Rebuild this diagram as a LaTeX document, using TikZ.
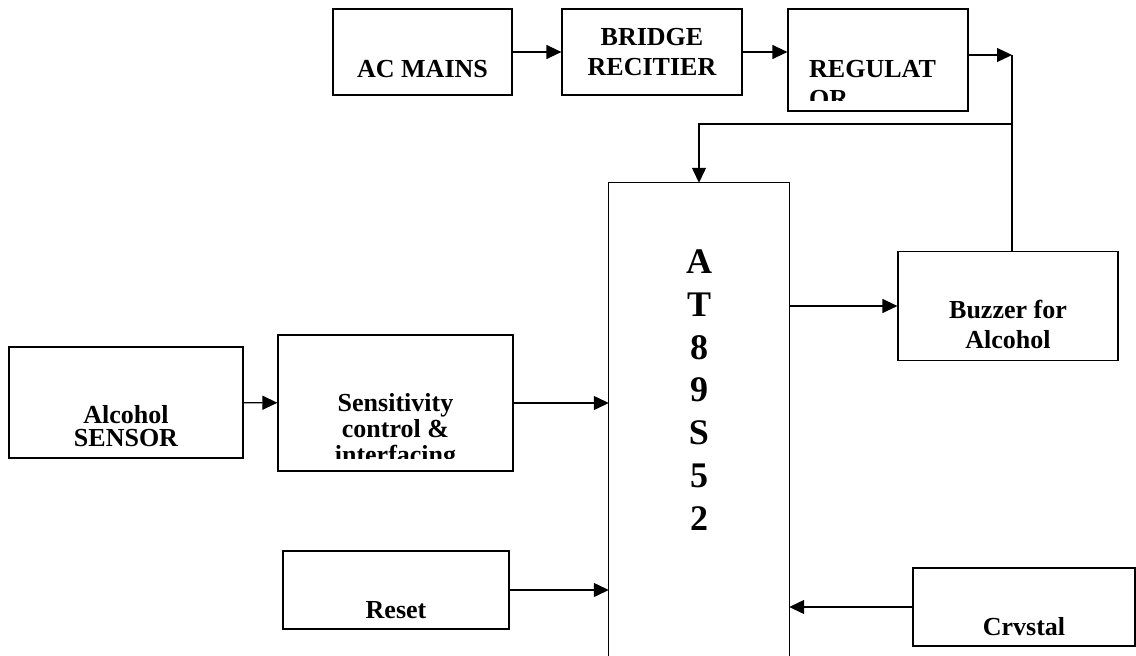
\documentclass[tikz,border=0pt]{standalone}
\usepackage{fontspec}
\setmainfont{Liberation Serif}
\usetikzlibrary{arrows.meta,positioning}

\begin{document}
\begin{tikzpicture}[x=1pt,y=-1pt,>={Triangle[length=15pt,width=14pt]},
  blk/.style={draw,line width=1.2pt,inner sep=0pt},
  ln/.style={line width=1.2pt},
  lbl/.style={font=\bfseries\fontsize{26}{30}\selectfont,align=center,anchor=base,inner sep=0pt}]
  \useasboundingbox (0,0) rectangle (1136,656);
  \node[blk,minimum width=179pt,minimum height=86pt] (acm) at (422.5,52) {};
  \node[blk,minimum width=180pt,minimum height=86pt] (bridge) at (652,52) {};
  \node[blk,minimum width=180pt,minimum height=102pt] (reg) at (878,60) {};
  \node[minimum width=180pt,minimum height=473pt] (mcu) at (699,419.5) {};
  \draw[line width=1pt] (mcu.south west) -- (mcu.north west) -- (mcu.north east) -- (mcu.south east);
  \node[blk,minimum width=220pt,minimum height=109pt] (buzzer) at (1008,306) {};
  \node[blk,minimum width=234pt,minimum height=111pt] (sensor) at (126,402.5) {};
  \node[blk,minimum width=235pt,minimum height=136pt] (sens) at (395.5,403) {};
  \node[blk,minimum width=226pt,minimum height=78pt] (reset) at (396,590) {};
  \node[blk,minimum width=222pt,minimum height=78pt] (crystal) at (1024,607) {};

  \node[lbl] (tacm) at (422.5,77) {AC MAINS};
  \node[lbl] (tbridge) at (652,75) {BRIDGE\\RECITIER};
  \begin{scope}
    \clip ([yshift=11pt]reg.south west) rectangle (reg.north east);
    \node[lbl,align=left,anchor=base west] (treg) at (809,107) {REGULAT\\OR};
  \end{scope}
  \node[lbl,font=\bfseries\fontsize{36}{42.7}\selectfont] (tmcu) at (699,530) {A\\T\\8\\9\\S\\5\\2};
  \node[lbl] (tbuzzer) at (1008,348) {Buzzer for\\Alcohol};
  \node[lbl,font=\bfseries\fontsize{26}{23}\selectfont] (tsensor) at (126,446) {Alcohol\\SENSOR};
  \begin{scope}
    \clip ([yshift=13pt]sens.south west) rectangle (sens.north east);
    \node[lbl,font=\bfseries\fontsize{26}{26}\selectfont] (tsens) at (395.5,463) {Sensitivity\\control \&\\interfacing};
  \end{scope}
  \node[lbl] (treset) at (396,618) {Reset};
  \node[lbl] (tcrystal) at (1024,635) {Crvstal};

  \coordinate (jn) at (1012,55);
  \coordinate (jtop) at (1012,124);
  \draw[ln,->] (acm) -- (bridge);
  \draw[ln,->] (bridge.east) -- (bridge.east -| reg.west);
  \draw[ln,->] (reg.east |- jn) -- (jn);
  \draw[ln] (jn) -- (jn |- buzzer.north);
  \draw[ln,->] (jtop) -- (jtop -| mcu.north) -- (mcu.north);
  \draw[ln,->] (mcu.east |- buzzer.west) -- (buzzer.west);
  \draw[ln,->] (sensor) -- (sens);
  \draw[ln,->] (sens.east) -- (sens.east -| mcu.west);
  \draw[ln,->] (reset.east) -- (reset.east -| mcu.west);
  \draw[ln,->] (crystal.west) -- (crystal.west -| mcu.east);
\end{tikzpicture}
\end{document}
